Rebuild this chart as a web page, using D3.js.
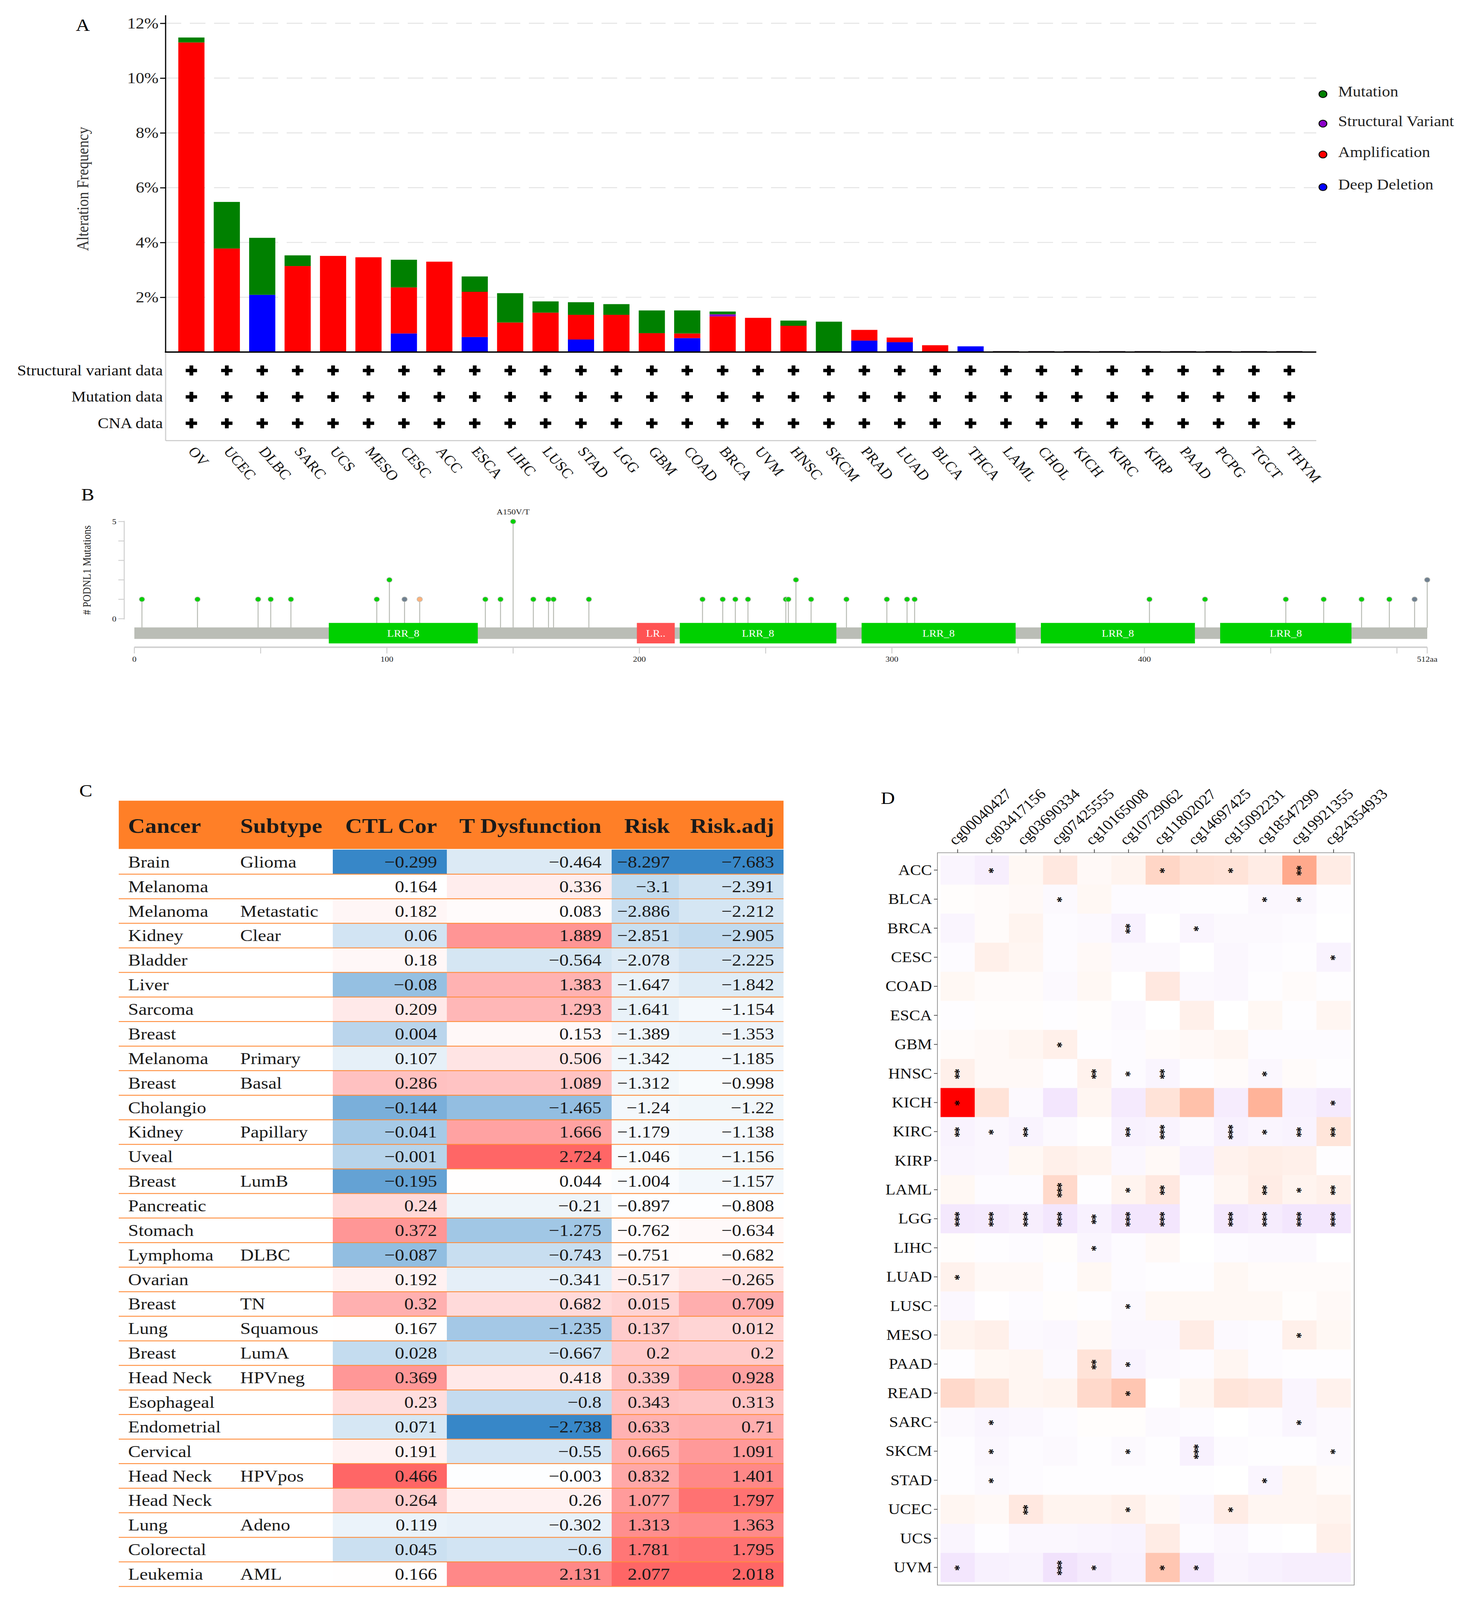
<!DOCTYPE html>
<html>
<head>
<meta charset="utf-8">
<script src="https://cdn.jsdelivr.net/npm/d3@7"></script>
<style>
html, body { margin: 0; padding: 0; background: #fff; overflow: hidden; }
#chart svg { display: block; width: 100vw; height: 100vh; }
text { font-family: "Liberation Serif", "Times New Roman", serif; }
</style>
</head>
<body>
<div id="chart"></div>
<script>
width = 3784
height = 4608

// ---------- panel A data (alteration frequency, %)
const cancers = ["OV","UCEC","DLBC","SARC","UCS","MESO","CESC","ACC","ESCA","LIHC","LUSC","STAD","LGG","GBM","COAD","BRCA","UVM","HNSC","SKCM","PRAD","LUAD","BLCA","THCA","LAML","CHOL","KICH","KIRC","KIRP","PAAD","PCPG","TGCT","THYM"]
const deepDel = [0,0,2.09,0,0,0,0.68,0,0.55,0,0,0.46,0,0,0.51,0,0,0,0,0.42,0.36,0,0.21,0,0,0,0,0,0,0,0,0]
const amp = [11.30,3.78,0,3.14,3.51,3.46,1.68,3.30,1.65,1.08,1.44,0.90,1.36,0.69,0.17,1.30,1.25,0.96,0,0.39,0.17,0.25,0,0,0,0,0,0,0,0,0,0]
const sv = [0,0,0,0,0,0,0,0,0,0,0,0,0,0,0,0.08,0,0,0,0,0,0,0,0,0,0,0,0,0,0,0,0]
const mut = [0.18,1.70,2.08,0.39,0,0,1.01,0,0.56,1.07,0.41,0.46,0.39,0.83,0.84,0.10,0,0.19,1.11,0,0,0,0,0,0,0,0,0,0,0,0,0]
const dataRows = ["Structural variant data","Mutation data","CNA data"]
const freqTicks = [2,4,6,8,10,12]
const legendKeys = ["Mutation","Structural Variant","Amplification","Deep Deletion"]

// ---------- panel B data (PODNL1 lollipop)
const mutPos = [3,25,49,54,62,96,101,107,113,139,145,150,158,164,166,180,225,233,238,243,258,259,262,268,282,298,306,309,402,424,456,471,486,497,507,512]
const mutCount = [1,1,1,1,1,1,2,1,1,1,1,5,1,1,1,1,1,1,1,1,1,1,2,1,1,1,1,1,1,1,1,1,1,1,1,2]
const mutType = ["Missense","Missense","Missense","Missense","Missense","Missense","Missense","Other","Splice","Missense","Missense","Missense","Missense","Missense","Missense","Missense","Missense","Missense","Missense","Missense","Missense","Missense","Missense","Missense","Missense","Missense","Missense","Missense","Missense","Missense","Missense","Missense","Missense","Missense","Other","Other"]
const domStart = [77,199,216,288,359,430]
const domEnd = [136,214,278,349,420,482]
const domName = ["LRR_8","LR..","LRR_8","LRR_8","LRR_8","LRR_8"]
const aaTicks = [0,50,100,150,200,250,300,350,400,450,500,512]
const aaLabels = [0,100,200,300,400,512]

// ---------- panel C data (TIDE table)
const tCancer = ["Brain","Melanoma","Melanoma","Kidney","Bladder","Liver","Sarcoma","Breast","Melanoma","Breast","Cholangio","Kidney","Uveal","Breast","Pancreatic","Stomach","Lymphoma","Ovarian","Breast","Lung","Breast","Head Neck","Esophageal","Endometrial","Cervical","Head Neck","Head Neck","Lung","Colorectal","Leukemia"]
const tSubtype = ["Glioma","","Metastatic","Clear","","","","","Primary","Basal","","Papillary","","LumB","","","DLBC","","TN","Squamous","LumA","HPVneg","","","","HPVpos","","Adeno","","AML"]
const ctlCor = [-0.299,0.164,0.182,0.06,0.18,-0.08,0.209,0.004,0.107,0.286,-0.144,-0.041,-0.001,-0.195,0.24,0.372,-0.087,0.192,0.32,0.167,0.028,0.369,0.23,0.071,0.191,0.466,0.264,0.119,0.045,0.166]
const tDys = [-0.464,0.336,0.083,1.889,-0.564,1.383,1.293,0.153,0.506,1.089,-1.465,1.666,2.724,0.044,-0.21,-1.275,-0.743,-0.341,0.682,-1.235,-0.667,0.418,-0.8,-2.738,-0.55,-0.003,0.26,-0.302,-0.6,2.131]
const risk = [-8.297,-3.1,-2.886,-2.851,-2.078,-1.647,-1.641,-1.389,-1.342,-1.312,-1.24,-1.179,-1.046,-1.004,-0.897,-0.762,-0.751,-0.517,0.015,0.137,0.2,0.339,0.343,0.633,0.665,0.832,1.077,1.313,1.781,2.077]
const riskAdj = [-7.683,-2.391,-2.212,-2.905,-2.225,-1.842,-1.154,-1.353,-1.185,-0.998,-1.22,-1.138,-1.156,-1.157,-0.808,-0.634,-0.682,-0.265,0.709,0.012,0.2,0.928,0.313,0.71,1.091,1.401,1.797,1.363,1.795,2.018]
const tHeaders = ["Cancer","Subtype","CTL Cor","T Dysfunction","Risk","Risk.adj"]

// ---------- panel D data (methylation correlation heatmap)
const probes = ["cg00040427","cg03417156","cg03690334","cg07425555","cg10165008","cg10729062","cg11802027","cg14697425","cg15092231","cg18547299","cg19921355","cg24354933"]
const hmCancers = ["ACC","BLCA","BRCA","CESC","COAD","ESCA","GBM","HNSC","KICH","KIRC","KIRP","LAML","LGG","LIHC","LUAD","LUSC","MESO","PAAD","READ","SARC","SKCM","STAD","UCEC","UCS","UVM"]
const hmValues = [
  [-0.05,-0.08,0.04,0.12,0.03,0.06,0.22,0.16,0.15,0.1,0.45,0.1],
  [0.01,0.02,0.03,-0.03,0.04,-0.02,-0.02,-0.01,-0.01,-0.04,-0.04,-0.01],
  [-0.05,0.02,0.06,-0.02,-0.03,-0.07,0,-0.05,-0.03,-0.03,-0.02,0],
  [-0.02,0.08,0.05,-0.02,0.03,-0.03,-0.03,0,-0.04,-0.02,-0.01,-0.06],
  [0.04,0.02,0.02,-0.03,0.04,0,0.12,-0.03,-0.04,-0.01,0.02,-0.01],
  [-0.01,0.01,0.01,-0.01,0.01,-0.03,0,0.08,0,0.04,-0.01,0.05],
  [0.02,0.03,0.05,0.08,-0.01,-0.02,0.02,0.03,0.05,-0.02,-0.02,-0.02],
  [0.08,0.03,0.03,-0.01,0.07,-0.02,-0.05,-0.01,0.02,-0.04,0.02,-0.01],
  [1.0,0.15,-0.03,-0.12,0.05,-0.1,0.15,0.33,-0.09,0.4,-0.07,-0.1],
  [-0.06,-0.04,-0.06,-0.03,0.005,-0.07,-0.06,-0.03,-0.07,-0.05,-0.06,0.14],
  [-0.05,-0.04,0.04,0.08,0.06,-0.04,0.03,-0.07,0.07,0.09,0.08,-0.01],
  [0.04,-0.02,-0.02,0.2,-0.01,0.06,0.12,-0.02,0.05,0.1,0.06,0.08],
  [-0.11,-0.1,-0.08,-0.12,-0.07,-0.12,-0.12,-0.02,-0.11,-0.09,-0.12,-0.12],
  [0.01,-0.01,-0.02,0.01,-0.05,-0.02,0.03,0,-0.02,-0.03,-0.03,0],
  [0.07,0.03,0.03,-0.01,0.04,-0.02,-0.01,-0.01,0.04,0.02,0.02,0.02],
  [-0.04,-0.005,-0.02,0.01,-0.01,-0.03,0.04,0.04,0.04,0.04,0.01,0.03],
  [0.06,0.08,-0.03,-0.04,0.03,-0.04,-0.04,0.1,-0.03,-0.02,0.08,0.04],
  [-0.01,0.04,0.05,-0.03,0.15,-0.06,-0.03,-0.02,0.05,-0.02,-0.01,-0.01],
  [0.2,0.14,0.05,0.06,0.2,0.3,0,0.05,0.14,0.12,-0.05,0.07],
  [-0.03,-0.05,-0.04,-0.02,0.01,0.01,-0.03,-0.02,0,-0.02,-0.05,-0.03],
  [-0.01,-0.04,-0.02,-0.03,-0.01,-0.03,-0.01,-0.07,-0.02,-0.01,-0.01,-0.03],
  [-0.01,-0.03,-0.02,-0.01,-0.01,-0.01,-0.01,-0.01,0,-0.05,0.05,0.02],
  [0.05,0.03,0.12,0.06,0.06,0.08,0.03,-0.04,0.1,0.05,0.05,0.06],
  [-0.05,-0.01,-0.04,-0.04,-0.05,-0.06,0.1,-0.02,-0.04,-0.01,0,0.08],
  [-0.12,-0.07,-0.06,-0.14,-0.1,-0.07,0.3,-0.12,-0.05,-0.07,-0.08,-0.08]
]
const hmSig = [
  ["","*","","","","","*","","*","","**",""],
  ["","","","*","","","","","","*","*",""],
  ["","","","","","**","","*","","","",""],
  ["","","","","","","","","","","","*"],
  ["","","","","","","","","","","",""],
  ["","","","","","","","","","","",""],
  ["","","","*","","","","","","","",""],
  ["**","","","","**","*","**","","","*","",""],
  ["*","","","","","","","","","","","*"],
  ["**","*","**","","","**","***","","***","*","**","**"],
  ["","","","","","","","","","","",""],
  ["","","","***","","*","**","","","**","*","**"],
  ["***","***","***","***","**","***","***","","***","***","***","***"],
  ["","","","","*","","","","","","",""],
  ["*","","","","","","","","","","",""],
  ["","","","","","*","","","","","",""],
  ["","","","","","","","","","","*",""],
  ["","","","","**","*","","","","","",""],
  ["","","","","","*","","","","","",""],
  ["","*","","","","","","","","","*",""],
  ["","*","","","","*","","***","","","","*"],
  ["","*","","","","","","","","*","",""],
  ["","","**","","","*","","","*","","",""],
  ["","","","","","","","","","","",""],
  ["*","","","***","*","","*","*","","","",""]
]

// the drawing is laid out in 3784x4608 units and stretched to the window
let svg = d3.select("#chart")
    .append("svg")
    .attr("viewBox", "0 0 " + width + " " + height)
    .attr("preserveAspectRatio", "none")
    .style("background", "#fff")

// panel letters
;[["A",194,89],["B",208,1441],["C",203,2294],["D",2255,2315]].forEach(p => {
    svg.append("text").attr("x", p[1]).attr("y", p[2])
        .attr("font-size", 50).attr("fill", "#000").text(p[0])
})

// =============== Panel A ===============
let gA = svg.append("g")
let xA = d3.scalePoint().domain(cancers).range([490, 3301])
let yA = d3.scaleLinear().domain([0, 12]).range([1014, 67])
let altColor = { deep: "#0000FF", amp: "#FF0000", sv: "#8B00C9", mut: "#008000" }

gA.append("g").selectAll("line")
    .data(freqTicks)
    .join("line")
    .attr("x1", 424).attr("x2", 3370)
    .attr("y1", d => yA(d)).attr("y2", d => yA(d))
    .attr("stroke", "#e6e6e6").attr("stroke-width", 3)
    .attr("stroke-dasharray", "40,22")

let barTable = cancers.map((c, i) => ({ cancer: c, deep: deepDel[i], amp: amp[i], sv: sv[i], mut: mut[i] }))
let stacked = d3.stack().keys(["deep", "amp", "sv", "mut"])(barTable)

gA.append("g").selectAll("g")
    .data(stacked)
    .join("g")
    .attr("fill", s => altColor[s.key])
    .selectAll("rect")
    .data(s => s.filter(d => d[1] - d[0] > 0))
    .join("rect")
    .attr("x", d => xA(d.data.cancer) - 33.5)
    .attr("width", 67)
    .attr("y", d => yA(d[1]))
    .attr("height", d => yA(d[0]) - yA(d[1]))

// zero-height bars show as thin dark dashes on the baseline
gA.append("g").selectAll("rect")
    .data(barTable.filter(d => d.deep + d.amp + d.sv + d.mut == 0))
    .join("rect")
    .attr("x", d => xA(d.cancer) - 33.5)
    .attr("width", 67)
    .attr("y", yA(0) - 3)
    .attr("height", 3)
    .attr("fill", "#5a4a5a")

let axA = gA.append("g")
    .attr("transform", "translate(424,0)")
    .call(d3.axisLeft(yA).tickValues(freqTicks).tickFormat(d => d + "%").tickSize(14))
axA.select(".domain").remove()
axA.selectAll(".tick line").attr("stroke", "#000").attr("stroke-width", 3)
axA.selectAll(".tick text").attr("font-size", 44).attr("fill", "#222")
    .attr("font-family", "Liberation Serif, Times New Roman, serif").attr("x", -18)

gA.append("line").attr("x1", 424).attr("x2", 424).attr("y1", 44).attr("y2", 1014)
    .attr("stroke", "#000").attr("stroke-width", 3)
gA.append("line").attr("x1", 422).attr("x2", 3370).attr("y1", 1014).attr("y2", 1014)
    .attr("stroke", "#000").attr("stroke-width", 4)

gA.append("text")
    .attr("transform", "translate(212,544) rotate(-90)")
    .attr("text-anchor", "middle").attr("dominant-baseline", "central")
    .attr("font-size", 42).attr("fill", "#333")
    .text("Alteration Frequency")

// data availability rows
gA.append("line").attr("x1", 424).attr("x2", 424).attr("y1", 1016).attr("y2", 1269)
    .attr("stroke", "#d0d0d0").attr("stroke-width", 3)
gA.append("line").attr("x1", 424).attr("x2", 3370).attr("y1", 1269).attr("y2", 1269)
    .attr("stroke", "#c8c8c8").attr("stroke-width", 3)

let rowY = [1067, 1143, 1219]
dataRows.forEach((r, k) => {
    gA.append("text")
        .attr("x", 417).attr("y", rowY[k] + 14)
        .attr("text-anchor", "end")
        .attr("font-size", 42).attr("fill", "#111")
        .text(r)
    gA.append("g").selectAll("path")
        .data(cancers)
        .join("path")
        .attr("transform", d => "translate(" + xA(d) + "," + rowY[k] + ")")
        .attr("d", d3.symbol().type(d3.symbolCross).size(470))
        .attr("fill", "#000")
})

gA.append("g").selectAll("text")
    .data(cancers)
    .join("text")
    .attr("transform", d => "translate(" + (xA(d) - 10) + ",1300) rotate(52)")
    .attr("text-anchor", "start")
    .attr("font-size", 40).attr("fill", "#111")
    .text(d => d)

let legend = gA.append("g")
let legY = [266, 351, 440, 534]
let legCol = [altColor.mut, altColor.sv, altColor.amp, altColor.deep]
legendKeys.forEach((k, i) => {
    legend.append("circle").attr("cx", 3387).attr("cy", legY[i] + 5).attr("r", 10)
        .attr("fill", legCol[i]).attr("stroke", "#000").attr("stroke-width", 2.5)
    legend.append("text").attr("x", 3426).attr("y", legY[i] + 12)
        .attr("font-size", 42).attr("fill", "#222").text(k)
})

// =============== Panel B ===============
let gB = svg.append("g")
let xB = d3.scaleLinear().domain([0, 512]).range([344, 3654])
let yB = d3.scaleLinear().domain([0, 5]).range([1782, 1502])
let typeColor = { Missense: "#00D000", Other: "#708090", Splice: "#FFB27C" }
let domColor = { "LRR_8": "#00D000", "LR..": "#FF5353" }

gB.append("line").attr("x1", 318).attr("x2", 318).attr("y1", 1500).attr("y2", 1784)
    .attr("stroke", "#cfcfcf").attr("stroke-width", 2.5)
gB.append("g").selectAll("line")
    .data(d3.range(0, 6))
    .join("line")
    .attr("x1", 303).attr("x2", 318)
    .attr("y1", d => yB(d)).attr("y2", d => yB(d))
    .attr("stroke", "#cfcfcf").attr("stroke-width", 2.5)
gB.append("g").selectAll("text")
    .data([0, 5])
    .join("text")
    .attr("x", 298).attr("y", d => yB(d) + 8)
    .attr("text-anchor", "end").attr("font-size", 22).attr("fill", "#222")
    .text(d => d)
gB.append("text")
    .attr("transform", "translate(222,1642) rotate(-90)")
    .attr("text-anchor", "middle").attr("dominant-baseline", "central")
    .attr("font-size", 29).attr("fill", "#222")
    .text("# PODNL1 Mutations")

let muts = mutPos.map((p, i) => ({ pos: p, count: mutCount[i], type: mutType[i] }))

gB.append("g").selectAll("line")
    .data(muts)
    .join("line")
    .attr("x1", d => xB(d.pos)).attr("x2", d => xB(d.pos))
    .attr("y1", 1808).attr("y2", d => yB(d.count))
    .attr("stroke", "#BABDB6").attr("stroke-width", 2.5)

gB.append("rect").attr("x", xB(0)).attr("width", xB(512) - xB(0))
    .attr("y", 1807).attr("height", 33).attr("fill", "#BABDB6")

let doms = domStart.map((s, i) => ({ start: s, end: domEnd[i], name: domName[i] }))
gB.append("g").selectAll("rect")
    .data(doms)
    .join("rect")
    .attr("x", d => xB(d.start)).attr("width", d => xB(d.end) - xB(d.start))
    .attr("y", 1794).attr("height", 59)
    .attr("fill", d => domColor[d.name])
gB.append("g").selectAll("text")
    .data(doms)
    .join("text")
    .attr("x", d => (xB(d.start) + xB(d.end)) / 2).attr("y", 1834)
    .attr("text-anchor", "middle").attr("font-size", 28).attr("fill", "#fff")
    .text(d => d.name)

gB.append("g").selectAll("circle")
    .data(muts)
    .join("circle")
    .attr("cx", d => xB(d.pos)).attr("cy", d => yB(d.count)).attr("r", 7)
    .attr("fill", d => typeColor[d.type]).attr("stroke", "#BABDB6").attr("stroke-width", 1.5)

gB.append("text").attr("x", xB(150)).attr("y", 1482)
    .attr("text-anchor", "middle").attr("font-size", 22).attr("fill", "#222")
    .text("A150V/T")

gB.append("line").attr("x1", xB(0)).attr("x2", xB(512)).attr("y1", 1864).attr("y2", 1864)
    .attr("stroke", "#cfcfcf").attr("stroke-width", 4)
gB.append("g").selectAll("line")
    .data(aaTicks)
    .join("line")
    .attr("x1", d => xB(d)).attr("x2", d => xB(d))
    .attr("y1", 1864).attr("y2", 1882)
    .attr("stroke", "#cfcfcf").attr("stroke-width", 2.5)
gB.append("g").selectAll("text")
    .data(aaLabels)
    .join("text")
    .attr("x", d => xB(d)).attr("y", 1906)
    .attr("text-anchor", "middle").attr("font-size", 22).attr("fill", "#222")
    .text(d => d == 512 ? "512aa" : d)

// =============== Panel C ===============
let gC = svg.append("g")
let cellX = [852, 1144, 1566, 1738, 2006]
let numRight = [1119, 1540, 1715, 1982]
let headX = [328, 615, 1119, 1540, 1715, 1982]
let rowTop = 2447
let rowH = (4569 - 2447) / 30
let numCols = [ctlCor, tDys, risk, riskAdj]

function colScale(vals) {
    let med = d3.median(vals)
    return d3.scaleLinear()
        .domain([d3.min(vals), med, d3.max(vals)])
        .range(["#3787C8", "#FFFFFF", "#FF6666"])
        .clamp(true)
}
let fmt = v => (v < 0 ? "\u2212" : "") + Math.abs(v)

gC.append("rect").attr("x", 304).attr("y", 2306).attr("width", 2006 - 304).attr("height", 2445 - 2306)
    .attr("fill", "#FF7F27")
gC.append("g").selectAll("text")
    .data(tHeaders)
    .join("text")
    .attr("x", (d, i) => headX[i]).attr("y", 2398)
    .attr("text-anchor", (d, i) => i < 2 ? "start" : "end")
    .attr("font-size", 60).attr("font-weight", "bold").attr("fill", "#1a1a1a")
    .text(d => d)

numCols.forEach((vals, j) => {
    let sc = colScale(vals)
    gC.append("g").selectAll("rect")
        .data(vals)
        .join("rect")
        .attr("x", cellX[j]).attr("width", cellX[j + 1] - cellX[j])
        .attr("y", (d, i) => rowTop + i * rowH).attr("height", rowH + 0.5)
        .attr("fill", d => sc(d))
    gC.append("g").selectAll("text")
        .data(vals)
        .join("text")
        .attr("x", numRight[j]).attr("y", (d, i) => rowTop + i * rowH + rowH / 2 + 16)
        .attr("text-anchor", "end").attr("font-size", 48).attr("fill", "#1a1a1a")
        .text(d => fmt(d))
})
gC.append("g").selectAll("text")
    .data(tCancer)
    .join("text")
    .attr("x", 328).attr("y", (d, i) => rowTop + i * rowH + rowH / 2 + 16)
    .attr("font-size", 48).attr("fill", "#1a1a1a")
    .text(d => d)
gC.append("g").selectAll("text")
    .data(tSubtype)
    .join("text")
    .attr("x", 615).attr("y", (d, i) => rowTop + i * rowH + rowH / 2 + 16)
    .attr("font-size", 48).attr("fill", "#1a1a1a")
    .text(d => d)
gC.append("g").selectAll("line")
    .data(d3.range(1, 31))
    .join("line")
    .attr("x1", 304).attr("x2", 2006)
    .attr("y1", d => rowTop + d * rowH).attr("y2", d => rowTop + d * rowH)
    .attr("stroke", "#FF8C3A").attr("stroke-width", 2.5)

// =============== Panel D ===============
let gD = svg.append("g")
let xD = d3.scaleBand().domain(probes).range([2408, 3458])
let yD = d3.scaleBand().domain(hmCancers).range([2464, 4556])
let hmColor = d3.scaleLinear().domain([-1, 0, 1])
    .range(["#8A2BE2", "#FFFFFF", "#FF0000"])
    .interpolate(d3.interpolateLab)

let cells = []
hmCancers.forEach((c, i) => probes.forEach((p, j) => {
    cells.push({ cancer: c, probe: p, value: hmValues[i][j], sig: hmSig[i][j] })
}))

gD.append("g").selectAll("rect")
    .data(cells)
    .join("rect")
    .attr("x", d => xD(d.probe)).attr("y", d => yD(d.cancer))
    .attr("width", xD.bandwidth() + 0.5).attr("height", yD.bandwidth() + 0.5)
    .attr("fill", d => hmColor(d.value))

// significance stars, stacked vertically (text turned 90 degrees)
gD.append("g").selectAll("text")
    .data(cells.filter(d => d.sig != ""))
    .join("text")
    .attr("transform", d => "translate(" + (xD(d.probe) + xD.bandwidth() / 2) + "," + (yD(d.cancer) + yD.bandwidth() / 2) + ") rotate(90)")
    .attr("text-anchor", "middle").attr("dy", "0.5em")
    .attr("font-size", 34).attr("font-weight", "bold").attr("letter-spacing", -3)
    .attr("fill", "#000")
    .text(d => d.sig)

gD.append("rect").attr("x", 2400).attr("y", 2456).attr("width", 3467 - 2400).attr("height", 4565 - 2456)
    .attr("fill", "none").attr("stroke", "#9a9a9a").attr("stroke-width", 2)

gD.append("g").selectAll("line")
    .data(hmCancers)
    .join("line")
    .attr("x1", 2391).attr("x2", 2400)
    .attr("y1", d => yD(d) + yD.bandwidth() / 2).attr("y2", d => yD(d) + yD.bandwidth() / 2)
    .attr("stroke", "#444").attr("stroke-width", 2)
gD.append("g").selectAll("text")
    .data(hmCancers)
    .join("text")
    .attr("x", 2386).attr("y", d => yD(d) + yD.bandwidth() / 2 + 14)
    .attr("text-anchor", "end").attr("font-size", 42).attr("fill", "#111")
    .text(d => d)

gD.append("g").selectAll("line")
    .data(probes)
    .join("line")
    .attr("x1", d => xD(d) + xD.bandwidth() / 2).attr("x2", d => xD(d) + xD.bandwidth() / 2)
    .attr("y1", 2446).attr("y2", 2456)
    .attr("stroke", "#444").attr("stroke-width", 2)
gD.append("g").selectAll("text")
    .data(probes)
    .join("text")
    .attr("transform", d => "translate(" + (xD(d) + xD.bandwidth() / 2 - 6) + ",2436) rotate(-45)")
    .attr("text-anchor", "start").attr("font-size", 42).attr("fill", "#111")
    .text(d => d)
</script>
</body>
</html>
